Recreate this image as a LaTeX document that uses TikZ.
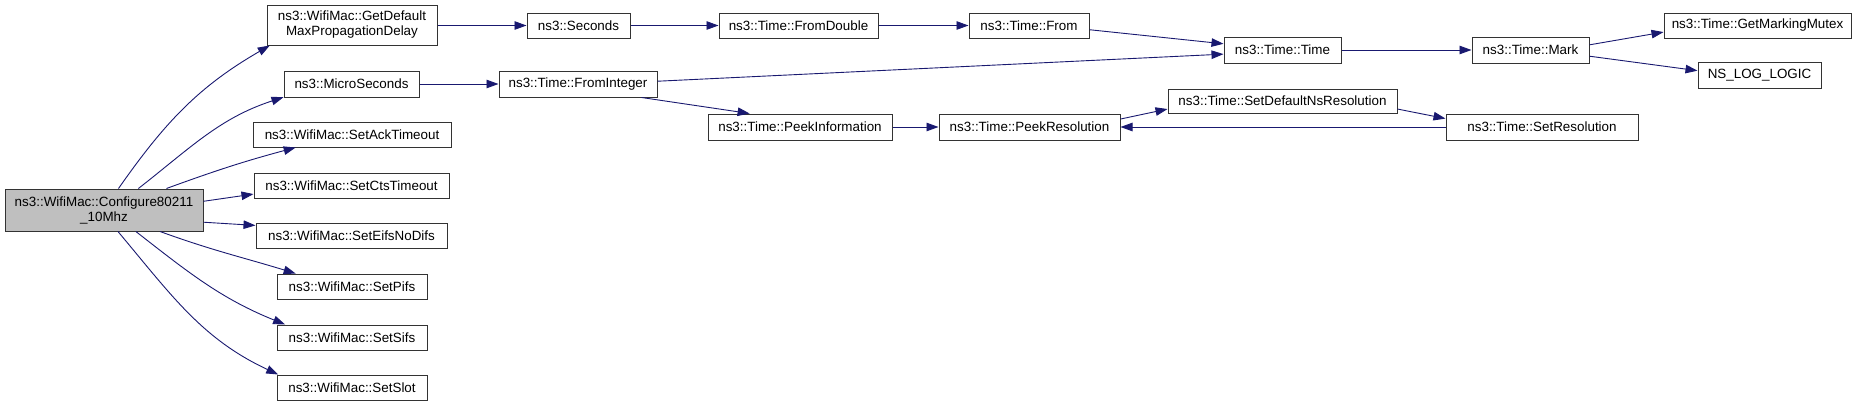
\documentclass[tikz,border=0pt]{standalone}
\usepackage{fontspec}
\setmainfont{Liberation Sans}
\usetikzlibrary{arrows.meta}
\definecolor{edgec}{HTML}{191970}
\definecolor{boxgray}{HTML}{BFBFBF}
\begin{document}
\begin{tikzpicture}[x=1pt,y=1pt,
  fn/.style={draw=black!80, line width=1pt, fill=white, inner sep=0pt, minimum height=26pt,
    font=\fontsize{13.4}{15}\selectfont, align=center},
  cl/.style={edgec, line width=0.9pt, -{Triangle[length=12pt,width=8.5pt]}}]
\useasboundingbox (0,0) rectangle (1861,-407);
% nodes
\node[fn, fill=boxgray, minimum width=198pt, minimum height=42pt] (cfg) at (104,-210) {ns3::WifiMac::Configure80211\\\_10Mhz};
\node[fn, minimum width=170pt, minimum height=40pt] (gdm) at (352,-25) {ns3::WifiMac::GetDefault\\MaxPropagationDelay};
\node[fn, minimum width=103pt, minimum height=25pt] (sec) at (578.5,-25.5) {ns3::Seconds};
\node[fn, minimum width=159pt, minimum height=25pt] (fd) at (798.5,-25.5) {ns3::Time::FromDouble};
\node[fn, minimum width=120pt, minimum height=25pt] (from) at (1029,-25.5) {ns3::Time::From};
\node[fn, minimum width=117pt] (tt) at (1282.5,-50) {ns3::Time::Time};
\node[fn, minimum width=117pt] (mark) at (1530.5,-50) {ns3::Time::Mark};
\node[fn, minimum width=187pt, minimum height=25pt] (gmm) at (1757.5,-25.5) {ns3::Time::GetMarkingMutex};
\node[fn, minimum width=123pt] (nll) at (1759.5,-75) {NS\_LOG\_LOGIC};
\node[fn, minimum width=135pt] (us) at (351.5,-84) {ns3::MicroSeconds};
\node[fn, minimum width=158pt] (fi) at (578,-84) {ns3::Time::FromInteger};
\node[fn, minimum width=184pt] (pi) at (800,-127) {ns3::Time::PeekInformation};
\node[fn, minimum width=181pt] (pr) at (1029.5,-127) {ns3::Time::PeekResolution};
\node[fn, minimum width=229pt, minimum height=24pt] (sdn) at (1282.5,-101) {ns3::Time::SetDefaultNsResolution};
\node[fn, minimum width=192pt] (sr) at (1542,-127) {ns3::Time::SetResolution};
\node[fn, minimum width=198pt, minimum height=25pt] (ack) at (352,-134.5) {ns3::WifiMac::SetAckTimeout};
\node[fn, minimum width=195pt, minimum height=25pt] (cts) at (351.5,-185.5) {ns3::WifiMac::SetCtsTimeout};
\node[fn, minimum width=191pt, minimum height=25pt] (eifs) at (351.5,-235.5) {ns3::WifiMac::SetEifsNoDifs};
\node[fn, minimum width=150pt, minimum height=25pt] (pifs) at (352,-286.5) {ns3::WifiMac::SetPifs};
\node[fn, minimum width=150pt, minimum height=25pt] (sifs) at (352,-337.5) {ns3::WifiMac::SetSifs};
\node[fn, minimum width=150pt, minimum height=25pt] (slot) at (352,-387.5) {ns3::WifiMac::SetSlot};
% edges from Configure
\draw[cl] (cfg.56) to[out=55,in=210] (gdm.194);
\draw[cl] (cfg.32.5) to[out=38,in=198] (us.191);
\draw[cl] (cfg.19.6) to[out=20,in=195] (ack.193);
\draw[cl] (cfg.5.8) -- (cts.185.6);
\draw[cl] (cfg.353.7) -- (eifs.174.9);
\draw[cl] (cfg.339.4) to[out=-20,in=163] (pifs.167.2);
\draw[cl] (cfg.326) to[out=-38,in=158] (sifs.169.4);
\draw[cl] (cfg.303.7) to[out=-50,in=155] (slot.170);
% chains
\draw[cl] (gdm.east |- sec.west) -- (sec.west);
\draw[cl] (sec.east) -- (fd.west);
\draw[cl] (fd.east) -- (from.west);
\draw[cl] (from.-4.3) -- (tt.174);
\draw[cl] (us.east) -- (fi.west);
\draw[cl] (fi.2.9) -- (tt.184);
\draw[cl] (fi.348.2) -- (pi.165.4);
\draw[cl] (pi.east) -- (pr.west);
\draw[cl] (pr.5.1) -- (sdn.184.5);
\draw[cl] (sdn.-4.5) -- (sr.175.2);
\draw[cl] (sr.west) -- (pr.east);
\draw[cl] (tt.east) -- (mark.west);
\draw[cl] (mark.5.9) -- (gmm.184);
\draw[cl] (mark.-6.8) -- (nll.176.3);
\end{tikzpicture}
\end{document}
